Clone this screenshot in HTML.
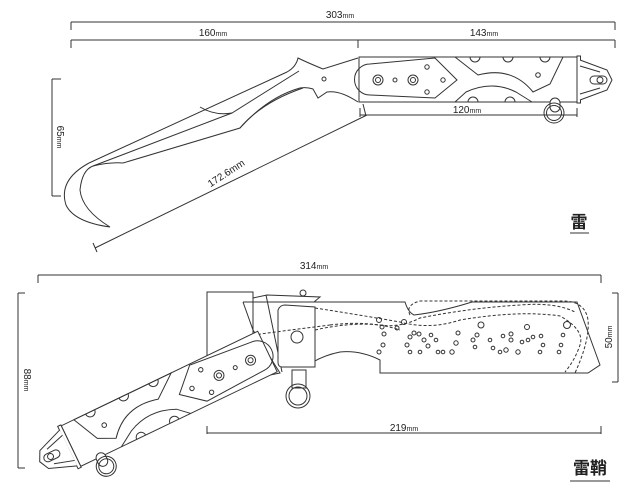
<!DOCTYPE html>
<html><head><meta charset="utf-8"><style>
html,body{margin:0;padding:0;background:#fff;}
svg{display:block;}
text{font-family:"Liberation Sans","Noto Sans CJK JP",sans-serif;fill:#222;}
</style></head><body>
<svg width="640" height="491" viewBox="0 0 640 491" xmlns="http://www.w3.org/2000/svg">
<defs>
<g id="h" fill="none" stroke="#333" stroke-width="1">
  <rect x="359" y="57" width="218" height="45" fill="#fff"/>
  <rect x="577" y="56" width="3.5" height="47" fill="#fff"/>
  <path d="M580,60 L607,70 L612,80 L607,90 L580,100" fill="#fff"/>
  <path d="M580,66 L600,72 M580,94 L600,88"/>
  <rect x="590" y="76" width="17" height="8" rx="4"/>
  <circle cx="600" cy="80" r="3"/>
  <path d="M370,64 L435,58 L457,80 L435,98 L370,95 A15.5,15.5 0 0 1 370,64 Z"/>
  <circle cx="378" cy="80" r="5"/><circle cx="378" cy="80" r="2.5"/>
  <circle cx="395" cy="80" r="2"/>
  <circle cx="413" cy="80" r="5"/><circle cx="413" cy="80" r="2.5"/>
  <circle cx="427" cy="67" r="2.2"/><circle cx="443" cy="80" r="2.2"/><circle cx="427" cy="92" r="2.2"/>
  <path d="M455,57 H563 L550,84 L533,92 Q512,66 478,75 Z"/>
  <path d="M455,102 L466,92 Q492,80 516,92 L532,102"/>
  <path d="M470,57 A5,5 0 0 0 480,57 M503,57 A5,5 0 0 0 513,57 M540,57 A5,5 0 0 0 550,57"/>
  <path d="M468,102 A5,5 0 0 1 478,102 M505,102 A5,5 0 0 1 515,102"/>
  <circle cx="538" cy="75" r="2.3"/>
  <rect x="550" y="98" width="10" height="14" rx="5" fill="#fff"/>
  <ellipse cx="554" cy="113" rx="10" ry="10"/>
  <ellipse cx="554" cy="113" rx="7.5" ry="7.5"/>
</g>
</defs>

<g stroke="#333" stroke-width="1" fill="none">
  <path d="M71,22 H615 M71,22 V30 M615,22 V30"/>
  <path d="M71,40 H615 M71,40 V48 M358,40 V48 M615,40 V48"/>
  <path d="M52,79 V196 M52,79 H61 M52,196 H61"/>
  <path d="M360,115 H577 M360,108 V117 M577,108 V117"/>
  <path d="M95,248 L367,115 M93,243 L97,252 M363,104 L366,116"/>
  <path d="M358,58 L323,69 Q306,62 298,58 Q296,67 287,72 L89,163"/>
  <path d="M200,107 Q215,116 232,113 L299,71"/>
  <path d="M232,113 L93,166"/>
  <path d="M89,163 Q58,180 66,205 Q74,222 110,227 Q82,210 80,190 Q82,170 93,166 Q110,162 123,163"/>
  <path d="M123,163 L240,128 Q268,97 300,88 Q307,87 313,89 L318,98 L327,92 Q340,90 358,102"/>
  <path d="M240,128 Q262,102 303,88"/>
  <circle cx="324" cy="79" r="2"/>
</g>
<use href="#h"/>
<text x="340" y="18" font-size="10" text-anchor="middle">303<tspan font-size="7">mm</tspan></text>
<text x="213" y="36" font-size="10" text-anchor="middle">160<tspan font-size="7">mm</tspan></text>
<text x="484" y="36" font-size="10" text-anchor="middle">143<tspan font-size="7">mm</tspan></text>
<text x="467" y="113" font-size="10" text-anchor="middle">120<tspan font-size="7">mm</tspan></text>
<text transform="translate(57,137) rotate(90)" font-size="10" text-anchor="middle">65<tspan font-size="7">mm</tspan></text>
<text transform="translate(228,176) rotate(-33)" font-size="10" text-anchor="middle">172.6mm</text>
<text x="579" y="228" font-size="17" text-anchor="middle" font-weight="bold">雷</text>
<path d="M570,233 H589" stroke="#333" stroke-width="1"/>

<g stroke="#333" stroke-width="1" fill="none">
  <path d="M38,275 H601 M38,275 V283 M601,275 V283"/>
  <path d="M18,293 V468 M18,293 H25 M18,468 H25"/>
  <path d="M618,293 V382 M618,293 H612 M618,382 H612"/>
  <path d="M207,433 H601 M207,426 V434 M601,426 V434"/>
  <path d="M243,302 H405 Q408,312 414,315 Q440,312 472,302 H577 L600,365 L588,373 H380 V360 Q360,350 340,352 Q325,355 313,362"/>
  <rect x="207" y="292" width="46" height="90"/>
  <path d="M253,298 L267,295 L320,297 L314,302 M266,295 L282,372"/>
  <circle cx="303" cy="293" r="3"/>
  <path d="M278,310 Q280,305 285,305 L315,307 V367 H282 Q278,367 278,362 Z" fill="#fff"/>
  <circle cx="297" cy="337" r="6"/>
  <rect x="292" y="370" width="14" height="18" fill="#fff"/>
  <circle cx="298" cy="396" r="12"/><circle cx="298" cy="396" r="9"/>
  <g stroke-dasharray="3,2">
    <path d="M315,308 Q360,315 400,322 Q430,330 460,320 Q520,310 560,316 Q585,330 580,345 Q575,360 565,372"/>
    <path d="M315,330 Q350,322 380,325 Q400,328 420,318 Q470,308 520,305 Q555,302 575,312"/>
    <path d="M253,335 Q290,330 330,325 M330,325 Q370,320 400,330"/>
    <path d="M410,315 Q405,305 420,301 H560 Q585,300 588,320 Q590,340 575,373"/>
  </g>
  <g>
    <circle cx="379" cy="320" r="2.5"/><circle cx="382" cy="327" r="2"/><circle cx="384" cy="334" r="2"/>
    <circle cx="383" cy="345" r="2"/><circle cx="379" cy="352" r="2"/><circle cx="404" cy="322" r="2.5"/>
    <circle cx="397" cy="328" r="2"/><circle cx="410" cy="337" r="2"/><circle cx="414" cy="333" r="2"/>
    <circle cx="419" cy="334" r="2"/><circle cx="407" cy="345" r="2"/><circle cx="410" cy="352" r="1.8"/>
    <circle cx="420" cy="352" r="1.8"/><circle cx="424" cy="340" r="2"/><circle cx="428" cy="346" r="2"/>
    <circle cx="438" cy="352" r="1.8"/><circle cx="443" cy="352" r="1.8"/><circle cx="452" cy="352" r="2.2"/>
    <circle cx="456" cy="343" r="2.2"/><circle cx="458" cy="333" r="2"/><circle cx="481" cy="325" r="3"/>
    <circle cx="477" cy="335" r="2"/><circle cx="475" cy="347" r="1.8"/><circle cx="473" cy="340" r="2"/>
    <circle cx="490" cy="340" r="1.8"/><circle cx="493" cy="348" r="1.8"/><circle cx="500" cy="352" r="1.8"/>
    <circle cx="506" cy="350" r="2.2"/><circle cx="503" cy="336" r="1.8"/><circle cx="511" cy="334" r="2"/>
    <circle cx="511" cy="340" r="2"/><circle cx="518" cy="352" r="2.2"/><circle cx="527" cy="327" r="2.5"/>
    <circle cx="522" cy="342" r="1.8"/><circle cx="528" cy="340" r="1.8"/><circle cx="533" cy="337" r="1.8"/>
    <circle cx="541" cy="336" r="1.8"/><circle cx="543" cy="345" r="1.8"/><circle cx="540" cy="352" r="1.8"/>
    <circle cx="567" cy="325" r="3.5"/><circle cx="563" cy="335" r="1.8"/><circle cx="561" cy="345" r="1.8"/>
    <circle cx="559" cy="352" r="1.8"/><circle cx="431" cy="335" r="1.8"/><circle cx="436" cy="340" r="1.8"/>
  </g>
  <path d="M243,302 L253,330 L280,373 L270,375"/>
</g>
<use href="#h" transform="translate(37,463) rotate(-25.7) scale(-1,1) translate(-615,-80)"/>
<text x="314" y="269" font-size="10" text-anchor="middle">314<tspan font-size="7">mm</tspan></text>
<text x="404" y="431" font-size="10" text-anchor="middle">219<tspan font-size="7">mm</tspan></text>
<text transform="translate(24,380) rotate(90)" font-size="10" text-anchor="middle">88<tspan font-size="7">mm</tspan></text>
<text transform="translate(612,337) rotate(-90)" font-size="10" text-anchor="middle">50<tspan font-size="7">mm</tspan></text>
<text x="590" y="474" font-size="17" text-anchor="middle" font-weight="bold">雷鞘</text>
<path d="M570,481 H610" stroke="#333" stroke-width="1"/>
</svg>
</body></html>
